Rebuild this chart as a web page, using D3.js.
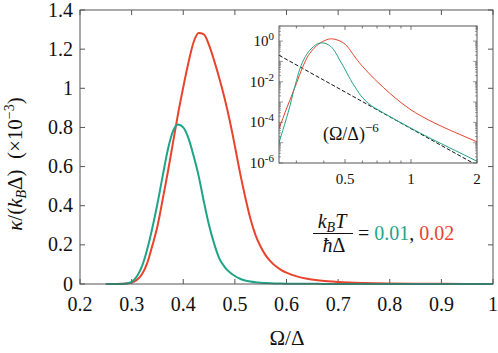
<!DOCTYPE html>
<html><head><meta charset="utf-8">
<script src="https://cdn.jsdelivr.net/npm/d3@7"></script>
<style>
body{margin:0;background:#fff;}
</style></head>
<body><svg id="c" width="498" height="353"></svg>
<script>
// ---- data (κ/(k_B Δ) in units of 1e-3) ----
const omega = [0.25,0.26,0.27,0.28,0.29,0.30,0.31,0.32,0.33,0.34,0.35,0.36,0.37,0.38,0.39,0.40,0.41,0.42,0.43,0.44,0.45,0.46,0.47,0.48,0.49,0.50,0.51,0.52,0.53,0.54,0.55,0.56,0.57,0.58,0.59,0.60,0.62,0.64,0.66,0.68,0.70,0.75,0.80,0.85,0.90,0.95,1.0,1.1,1.2,1.3,1.4,1.5,1.6,1.8,2.0];
const kappaT001 = [1e-5,4e-5,1.5e-4,6e-4,2.8e-3,0.011,0.038,0.09,0.175,0.285,0.41,0.55,0.685,0.78,0.815,0.80,0.745,0.655,0.55,0.42,0.30,0.205,0.13,0.088,0.06,0.041,0.027,0.018,0.0126,0.0089,0.0065,0.0048,0.0036,0.0027,0.0021,0.0017,0.00115,0.00085,0.00066,0.00053,0.00044,0.000288,0.000194,0.000134,0.000095,0.00007,0.0000515,0.00003,0.0000184,0.000012,0.0000081,0.0000056,0.000004,0.00000213,0.00000122];
const kappaT002 = [5e-5,1.5e-4,4.5e-4,1.2e-3,3.2e-3,8e-3,0.021,0.05,0.105,0.195,0.295,0.43,0.57,0.72,0.87,1.005,1.13,1.235,1.282,1.275,1.22,1.14,1.05,0.95,0.835,0.705,0.568,0.445,0.335,0.25,0.19,0.145,0.113,0.089,0.071,0.058,0.039,0.027,0.0192,0.0139,0.0102,0.0051,0.0027,0.00155,0.00094,0.00061,0.00041,0.00022,0.000132,0.000086,0.000059,0.000042,0.000031,0.000018,0.000011];
const powerLawOmega = [0.25, 2.0];
const powerLawValue = [0.2, 7.7e-7];
const mainXTicks = [0.2,0.3,0.4,0.5,0.6,0.7,0.8,0.9,1.0];
const mainYTicks = [0,0.2,0.4,0.6,0.8,1.0,1.2,1.4];
const insetXLabels = [0.5,1,2];
const insetYLabels = [0,-2,-4,-6];
const colorT001 = "#1fa488", colorT002 = "#e8432d";

const FONT = "'Liberation Serif', 'DejaVu Serif', serif";
const svg = d3.select("#c").attr("font-family",FONT);
const axisCol = "#555";
const TXT = "#111";

// ---- main plot ----
const M = {l:80, r:493, t:10, b:284};
const x = d3.scaleLinear().domain([0.2,1.0]).range([M.l,M.r]);
const y = d3.scaleLinear().domain([0,1.4]).range([M.b,M.t]);

const fmt = d => d===0 ? "0" : (d===1 ? "1" : String(+d.toFixed(1)));
const tl = 5;
const g = svg.append("g");
mainXTicks.forEach(v=>{
  g.append("line").attr("x1",x(v)).attr("x2",x(v)).attr("y1",M.b).attr("y2",M.b-tl).attr("stroke",axisCol);
  g.append("line").attr("x1",x(v)).attr("x2",x(v)).attr("y1",M.t).attr("y2",M.t+tl).attr("stroke",axisCol);
  g.append("text").attr("x",x(v)).attr("y",311).attr("text-anchor","middle").attr("font-size",20).attr("fill",TXT).text(fmt(v));
});
mainYTicks.forEach(v=>{
  g.append("line").attr("x1",M.l).attr("x2",M.l+tl).attr("y1",y(v)).attr("y2",y(v)).attr("stroke",axisCol);
  g.append("line").attr("x1",M.r).attr("x2",M.r-tl).attr("y1",y(v)).attr("y2",y(v)).attr("stroke",axisCol);
  g.append("text").attr("x",73).attr("y",y(v)+6.5).attr("text-anchor","end").attr("font-size",20).attr("fill",TXT).text(fmt(v));
});

const mainData = omega.map((o,i)=>({o, a:kappaT001[i], b:kappaT002[i]})).filter(d=>d.o<=1.0001);
const lineA = d3.line().x(d=>x(d.o)).y(d=>y(d.a)).curve(d3.curveMonotoneX);
const lineB = d3.line().x(d=>x(d.o)).y(d=>y(d.b)).curve(d3.curveMonotoneX);
svg.append("path").datum(mainData).attr("d",lineB).attr("fill","none").attr("stroke",colorT002).attr("stroke-width",2);
svg.append("path").datum(mainData).attr("d",lineA).attr("fill","none").attr("stroke",colorT001).attr("stroke-width",2);

svg.append("rect").attr("x",M.l).attr("y",M.t).attr("width",M.r-M.l).attr("height",M.b-M.t)
  .attr("fill","none").attr("stroke",axisCol).attr("stroke-width",1);

// axis titles
svg.append("text").attr("x",287).attr("y",345).attr("text-anchor","middle").attr("font-size",21).attr("fill",TXT).text("Ω/Δ");
const yt = svg.append("text").attr("transform","translate(22,164) rotate(-90)").attr("text-anchor","middle")
  .attr("font-size",21).attr("fill",TXT);
yt.append("tspan").attr("font-style","italic").text("κ");
yt.append("tspan").text("/(");
yt.append("tspan").attr("font-style","italic").text("k");
yt.append("tspan").attr("font-style","italic").attr("font-size",14).attr("dy",4).text("B");
yt.append("tspan").attr("dy",-4).text("Δ)\u2002(×10");
yt.append("tspan").attr("font-size",14).attr("dy",-8).text("−3");
yt.append("tspan").attr("dy",8).text(")");

// legend
const lg = svg.append("g");
const num = lg.append("text").attr("x",332).attr("y",228).attr("text-anchor","middle").attr("font-size",20).attr("fill",TXT);
num.append("tspan").attr("font-style","italic").text("k");
num.append("tspan").attr("font-style","italic").attr("font-size",14).attr("dy",4).text("B");
num.append("tspan").attr("font-style","italic").attr("dy",-4).text("T");
lg.append("line").attr("x1",313).attr("x2",353).attr("y1",233.5).attr("y2",233.5).attr("stroke",TXT).attr("stroke-width",1);
const den = lg.append("text").attr("x",334).attr("y",252).attr("text-anchor","middle").attr("font-size",20).attr("fill",TXT);
den.append("tspan").attr("font-style","italic").text("ħ");
den.append("tspan").text("Δ");
const eq = lg.append("text").attr("x",358).attr("y",240).attr("font-size",20).attr("fill",TXT);
eq.append("tspan").text("= ");
eq.append("tspan").attr("fill",colorT001).text("0.01");
eq.append("tspan").text(", ");
eq.append("tspan").attr("fill",colorT002).text("0.02");

// ---- inset ----
const I = {l:279, r:477, t:26, b:163};
const xi = d3.scaleLog().domain([0.25,2]).range([I.l,I.r]);
const yi = d3.scaleLog().domain([1e-6,5.5]).range([I.b,I.t]);
svg.append("rect").attr("x",I.l).attr("y",I.t).attr("width",I.r-I.l).attr("height",I.b-I.t).attr("fill","#fff");
svg.append("clipPath").attr("id","ic").append("rect").attr("x",I.l).attr("y",I.t).attr("width",I.r-I.l).attr("height",I.b-I.t);
const ig = svg.append("g");
const xMinor = d3.range(3,10).map(k=>k/10).concat([1,2]);
xMinor.forEach(v=>{
  const big = insetXLabels.includes(v);
  const L = big?4:2.5;
  ig.append("line").attr("x1",xi(v)).attr("x2",xi(v)).attr("y1",I.b).attr("y2",I.b-L).attr("stroke",axisCol).attr("stroke-width",0.8);
  ig.append("line").attr("x1",xi(v)).attr("x2",xi(v)).attr("y1",I.t).attr("y2",I.t+L).attr("stroke",axisCol).attr("stroke-width",0.8);
});
insetXLabels.forEach(v=>{
  ig.append("text").attr("x",xi(v)).attr("y",184).attr("text-anchor","middle").attr("font-size",15).attr("fill",TXT).text(v);
});
for(let e=-6;e<=0;e++){
  for(let m=1;m<=9;m++){
    const v=m*Math.pow(10,e);
    if(v>5.5) break;
    const L = m===1?4:2;
    ig.append("line").attr("x1",I.l).attr("x2",I.l+L).attr("y1",yi(v)).attr("y2",yi(v)).attr("stroke",axisCol).attr("stroke-width",0.6);
    ig.append("line").attr("x1",I.r).attr("x2",I.r-L).attr("y1",yi(v)).attr("y2",yi(v)).attr("stroke",axisCol).attr("stroke-width",0.6);
  }
}
insetYLabels.forEach(e=>{
  const t = ig.append("text").attr("x",274).attr("y",yi(Math.pow(10,e))+5).attr("text-anchor","end").attr("font-size",15).attr("fill",TXT);
  t.append("tspan").text("10");
  t.append("tspan").attr("font-size",11).attr("dy",-6).text(e===0?"0":"-"+(-e));
});
const inData = omega.map((o,i)=>({o, a:kappaT001[i], b:kappaT002[i]}));
const cl = svg.append("g").attr("clip-path","url(#ic)");
const pl = powerLawOmega.map((o,i)=>({o, v:powerLawValue[i]}));
cl.append("path").datum(pl).attr("d",d3.line().x(d=>xi(d.o)).y(d=>yi(d.v)))
  .attr("fill","none").attr("stroke","#111").attr("stroke-width",1).attr("stroke-dasharray","4,2");
cl.append("path").datum(inData).attr("d",d3.line().x(d=>xi(d.o)).y(d=>yi(d.b)).curve(d3.curveMonotoneX))
  .attr("fill","none").attr("stroke",colorT002).attr("stroke-width",1);
cl.append("path").datum(inData).attr("d",d3.line().x(d=>xi(d.o)).y(d=>yi(d.a)).curve(d3.curveMonotoneX))
  .attr("fill","none").attr("stroke",colorT001).attr("stroke-width",1);
svg.append("rect").attr("x",I.l).attr("y",I.t).attr("width",I.r-I.l).attr("height",I.b-I.t)
  .attr("fill","none").attr("stroke",axisCol).attr("stroke-width",1);
const ann = svg.append("text").attr("x",323).attr("y",140).attr("font-size",18).attr("fill",TXT);
ann.append("tspan").text("(Ω/Δ)");
ann.append("tspan").attr("font-size",13).attr("dy",-8).text("−6");
</script></body></html>
